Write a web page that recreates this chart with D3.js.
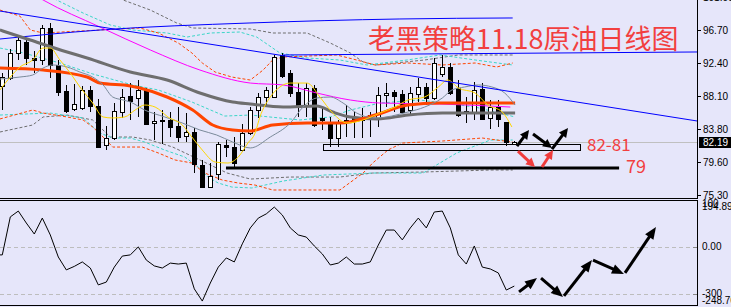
<!DOCTYPE html>
<html><head><meta charset="utf-8">
<script src="https://cdn.jsdelivr.net/npm/d3@7"></script>
<style>html,body{margin:0;padding:0;background:#e6e6fa;overflow:hidden}svg{display:block}</style>
</head><body><svg id="c" width="731" height="307"></svg>
<script>
// ---------- DATA ----------
// daily candles [open, high, low, close]
const candles = [
[89.44,91.12,86.32,90.60],[90.47,94.23,90.21,93.72],[93.72,95.79,92.81,95.40],[95.14,95.66,92.16,93.07],
[93.07,93.98,91.12,92.81],[92.81,97.35,92.16,96.96],[96.96,97.61,90.47,92.16],[92.16,92.81,88.14,88.66],
[88.79,89.57,85.93,86.19],[86.45,89.69,86.19,87.10],[86.58,89.44,86.32,88.92],[88.92,89.44,86.06,86.84],
[86.84,87.75,81.40,81.52],[81.78,84.25,81.13,82.69],[82.69,87.23,82.43,86.19],[86.06,89.05,85.29,88.01],
[88.14,89.82,85.03,87.49],[87.88,90.21,85.42,88.92],[88.92,89.18,84.38,84.51],[84.64,86.06,82.43,84.90],
[85.03,86.32,81.91,84.90],[85.03,86.06,82.82,84.12],[84.25,86.71,82.17,82.82],[82.95,85.93,82.17,83.47],
[83.47,83.99,78.15,79.32],[79.19,79.84,76.21,76.34],[76.34,79.45,76.21,77.76],[78.02,82.17,77.24,81.91],
[81.78,82.43,80.23,81.52],[81.52,82.82,78.93,79.45],[81.13,84.51,80.88,83.34],[83.34,86.71,83.08,86.32],
[86.32,88.53,85.29,88.01],[88.01,89.31,86.97,88.92],[88.01,93.46,87.88,93.20],[93.46,93.72,90.47,90.73],
[91.12,91.51,88.01,88.53],[88.66,89.82,85.42,86.97],[86.97,89.82,85.42,89.18],[89.18,89.57,84.12,84.38],
[85.29,86.58,83.73,85.03],[84.64,85.42,81.52,82.69],[82.69,85.03,81.52,84.64],[85.03,86.97,82.82,84.90],
[85.16,86.06,82.69,85.29],[85.42,86.58,82.69,85.03],[85.42,86.06,82.82,85.67],[85.29,89.31,84.12,88.27],
[88.27,89.82,86.71,88.53],[88.66,88.92,86.06,88.14],[88.40,88.92,85.93,86.06],[86.32,89.31,85.67,88.53],
[88.40,90.47,87.36,89.31],[89.31,89.82,86.97,87.88],[87.88,93.07,87.62,92.42],[90.99,93.46,90.60,91.90],
[91.90,92.42,88.27,88.53],[89.18,90.21,85.42,85.67],[85.93,88.01,84.64,86.19],[86.06,89.95,85.03,88.92],
[89.05,89.82,85.03,85.16],[85.29,87.62,83.86,86.71],[86.71,87.62,84.12,85.16],[84.77,84.77,81.65,82.17],
[81.90,82.30,81.78,82.19]
];
// moving averages, read as [bar index, price]
const maYellow = [[-0.3,88.92],[1.0,90.60],[2.2,91.90],[3.8,92.81],[5.1,94.36],[6.0,94.36],[7.2,92.81],[8.5,91.12],[9.7,89.31],[11.3,87.23],[12.6,85.42],[13.8,85.29],[15.3,85.42],[16.6,86.32],[17.8,86.97],[19.1,86.71],[20.7,85.42],[22.5,84.38],[23.7,82.82],[25.0,81.13],[26.6,79.58],[28.2,79.45],[29.5,80.23],[30.7,82.04],[31.6,83.34],[32.2,85.42],[33.5,88.01],[34.7,89.31],[36.0,89.82],[38.1,89.82],[39.7,88.01],[41.3,85.93],[43.1,84.64],[45.1,85.03],[47.2,85.93],[49.1,86.71],[50.7,87.62],[52.8,88.01],[54.5,89.31],[55.7,90.21],[57.0,89.18],[59.1,88.53],[60.7,86.97],[62.5,86.06],[63.7,84.12]];
const maGreyThin = [[-0.3,90.34],[2.2,90.60],[3.8,90.86],[5.1,91.77],[6.3,92.16],[8.1,91.90],[9.7,91.25],[11.3,90.60],[12.6,89.57],[13.8,88.01],[15.1,87.62],[16.0,87.36],[17.8,86.32],[20.3,85.42],[22.5,84.64],[24.7,83.73],[26.8,83.08],[28.8,82.17],[31.0,81.40],[33.5,82.82],[36.0,84.64],[37.6,86.71],[39.3,87.88],[41.0,88.01],[42.6,87.23],[44.3,85.93],[46.6,85.29],[50.7,86.06],[52.8,86.71],[55.0,87.88],[56.2,88.92],[57.8,89.31],[59.5,89.57],[61.2,89.31],[62.8,88.53],[64.1,86.97]];
const maOrange = [[-0.3,91.77],[5.1,91.51],[10.6,90.60],[12.2,89.82],[16.0,89.44],[17.2,89.18],[20.6,88.01],[23.8,86.32],[26.3,84.38],[28.8,83.73],[31.0,83.60],[33.8,84.38],[38.1,84.64],[42.2,84.64],[46.6,85.67],[50.7,86.97],[54.7,87.23],[64.1,87.23]];
const maGreyThick = [[-0.3,96.70],[3.5,95.40],[8.1,93.85],[10.6,93.07],[16.0,91.25],[20.6,90.21],[24.7,88.53],[28.8,87.36],[31.0,87.10],[35.1,86.71],[39.3,86.84],[41.3,86.06],[43.5,85.42],[46.9,85.16],[50.7,85.67],[55.0,85.93],[64.1,85.93]];
const maMagenta = [[4.1,101.2],[5.1,100.59],[12.2,97.09],[18.5,94.11],[24.7,91.51],[31.0,89.82],[35.1,89.57],[39.3,88.53],[43.5,87.62],[47.2,87.23],[54.7,87.10],[63.5,86.71]];
const maBlue = [[-0.3,95.53],[12.2,96.70],[30.96,97.61],[49.7,98.13],[63.8,98.26]];
// envelope / band lines (dashed)
const bandRedUp = [[-0.3,99.29],[2.2,98.51],[3.5,96.70],[5.1,96.31],[12.2,96.70],[17.2,96.96],[19.5,96.31],[22.0,95.01],[23.7,93.72],[25.0,92.42],[26.6,91.25],[28.7,90.60],[31.0,90.21],[32.6,91.51],[33.8,92.81],[35.1,93.20],[41.8,93.46],[44.3,92.81],[46.6,92.16],[50.7,92.42],[55.0,92.16],[59.1,92.42],[61.8,91.90],[63.8,92.42]];
const bandRedLow = [[-0.3,85.16],[3.8,86.32],[5.1,85.93],[8.1,85.42],[10.1,85.03],[11.3,84.12],[12.6,82.82],[13.8,81.52],[17.5,81.52],[19.5,80.75],[21.6,79.84],[23.7,79.45],[25.3,78.15],[27.5,77.24],[29.5,76.85],[31.6,76.59],[33.8,75.95],[42.2,75.95],[45.1,78.15],[46.3,79.45],[48.2,81.13],[50.0,82.04],[55.0,82.30],[60.0,82.69],[61.8,82.43],[63.8,82.17]];
const bandCyanUp = [[6.0,101.2],[6.8,100.59],[10.1,98.90],[13.5,97.35],[16.3,96.70],[20.6,96.31],[23.1,95.79],[26.0,96.31],[29.7,96.44],[31.8,95.79],[34.7,93.72],[38.1,93.07],[42.2,92.81],[45.6,92.16],[50.6,92.81],[54.7,93.46],[59.1,92.81],[63.8,92.16]];
const bandCyanMid = [[-0.3,94.36],[2.2,93.85],[7.2,92.42],[11.3,91.00],[16.3,89.57],[19.5,88.92],[23.7,87.36],[27.8,85.54],[31.0,85.67],[37.2,85.03],[41.0,85.42],[43.5,86.32],[47.2,87.23],[52.2,87.62],[59.1,86.71],[64.1,85.42]];
const bandCyanLow = [[-0.3,85.67],[6.0,85.93],[10.1,85.29],[12.2,83.34],[13.8,82.69],[16.0,82.69],[17.8,82.17],[20.3,81.13],[22.8,80.23],[24.5,78.93],[25.7,77.63],[27.0,76.85],[28.7,76.33],[31.2,76.21],[35.1,77.11],[40.1,77.89],[46.3,78.15],[52.6,78.15],[54.7,79.45],[56.8,80.75],[61.0,82.43],[63.8,82.43]];
const bandGreyUp = [[14.1,101.2],[15.1,100.59],[18.5,99.29],[21.8,97.61],[23.8,96.96],[31.0,96.83],[33.8,96.31],[38.1,96.31],[41.0,95.01],[43.5,93.72],[45.1,92.55],[46.6,92.16],[52.8,92.81],[57.0,93.46],[63.8,93.46]];
const bandGreyLow = [[-0.3,83.47],[3.8,84.38],[5.1,85.42],[8.1,85.67],[11.3,85.03],[13.5,82.82],[16.3,82.82],[18.5,82.43],[21.3,81.52],[24.7,79.84],[28.1,78.15],[31.0,77.37],[36.0,77.63],[42.2,77.63],[46.3,78.15],[52.6,78.28],[61.0,78.54],[63.8,78.54]];
// trend lines [bar index, price]
const trendDown = [[-0.29,99.16],[86.84,84.90]];
const resistance = [[35.1,93.46],[86.84,93.85]];
const lastPrice = 82.19;
const zone = [40.1,72.2,81.95,81.15];     // from, to, high, low
const support = [27.96,77.1,78.8];        // from, to, price
const arrowsBlack = [[64.34,81.65,65.84,83.73],[66.34,83.21,68.71,81.40],[68.71,81.26,70.71,83.99]];
const arrowsRed = [[64.46,81.00,66.59,78.93],[67.46,78.93,68.84,81.13]];
// CCI values from bar index -1
const cci = [-35,-35,127,152,101,54,122,50,-44,-99,-84,-65,-91,-163,-151,-87,-40,-35,-1,-57,-82,-91,-70,-74,-70,-180,-232,-155,-87,-48,-65,12,80,122,140,169,135,80,50,41,3,-31,-78,-70,-44,-74,-74,-65,7,71,71,29,80,122,80,148,152,80,-35,-74,3,-87,-95,-112,-185,-168];
const arrowsCci = [[64.59,-193,66.84,-134],[67.34,-134,70.09,-215],[70.21,-210,73.71,-57],[73.84,-57,77.71,-116],[77.84,-112,81.71,84]];
const priceTicks = [101.00,96.70,92.40,88.10,83.80,79.60,75.30];
const cciTicks = [194.895,0,-248.76];
const cciTickLabels = ["194.895","0.00","-248.76"];
const cciLevels = [0,-200];
const cciLevelLabels = ["100","-300"];
const cciLevelLabelValues = [185,-200];
const title = "老黑策略11.18原油日线图";
const zoneLabel = "82-81";
const supportLabel = "79";

// ---------- CHART ----------
const W=731,H=307,PR=697;
const svg=d3.select("#c");
const xs=d3.scaleLinear().domain([0,64]).range([2.3,514.3]);
const ym=d3.scaleLinear().domain([75.30,96.70]).range([195,30]);
const ys=d3.scaleLinear().domain([-248.76,194.895]).range([305,201]);
svg.append("rect").attr("width",W).attr("height",H).attr("fill","#e6e6fa");
const defs=svg.append("defs");
defs.append("clipPath").attr("id","cm").append("rect").attr("x",0).attr("y",0).attr("width",PR).attr("height",198);
defs.append("clipPath").attr("id","cs").append("rect").attr("x",0).attr("y",201).attr("width",PR).attr("height",104);
const gm=svg.append("g").attr("clip-path","url(#cm)");
const gs=svg.append("g").attr("clip-path","url(#cs)");

const lineLin=d3.line().x(d=>xs(d[0])).y(d=>ym(d[1]));
const lineSm=d3.line().x(d=>xs(d[0])).y(d=>ym(d[1])).curve(d3.curveMonotoneX);

// current price line
gm.append("line").attr("x1",0).attr("x2",PR).attr("y1",Math.round(ym(lastPrice))+0.5).attr("y2",Math.round(ym(lastPrice))+0.5).attr("stroke","#c0c0c0");

// dashed bands
[[bandGreyUp,"#6e6e6e"],[bandGreyLow,"#6e6e6e"],[bandCyanUp,"#3cd6c8"],[bandCyanMid,"#3cd6c8"],[bandCyanLow,"#3cd6c8"],[bandRedUp,"#ff4500"],[bandRedLow,"#ff4500"]].forEach(([d,c])=>{
  gm.append("path").attr("d",lineLin(d)).attr("fill","none").attr("stroke",c).attr("stroke-width",1).attr("stroke-dasharray","3,2");
});

// candles
const cg=gm.append("g");
candles.forEach((c,i)=>{
  const cx=Math.round(xs(i))+0.5;
  const [o,h,l,cl]=c;
  cg.append("line").attr("x1",cx).attr("x2",cx).attr("y1",Math.round(ym(h))).attr("y2",Math.round(ym(l))).attr("stroke","#000");
  const top=Math.round(ym(Math.max(o,cl))), bot=Math.round(ym(Math.min(o,cl)));
  cg.append("rect").attr("x",cx-2).attr("y",top+0.5).attr("width",4).attr("height",Math.max(1,bot-top))
    .attr("fill",cl>=o?"#fff":"#000").attr("stroke","#000").attr("stroke-width",1);
});

// moving averages
[[maBlue,"#0000ff",1],[maMagenta,"#ff00ff",1],[maGreyThick,"#6e6e6e",3],[maOrange,"#ff4500",3],[maGreyThin,"#7a8a9a",1],[maYellow,"#ffd700",1]].forEach(([d,c,w])=>{
  gm.append("path").attr("d",lineSm(d)).attr("fill","none").attr("stroke",c).attr("stroke-width",w);
});
// trend lines
[trendDown,resistance].forEach(d=>{
  gm.append("path").attr("d",lineLin(d)).attr("fill","none").attr("stroke","#0000ff").attr("stroke-width",1);
});

// zone box & support line
gm.append("rect").attr("x",Math.round(xs(zone[0]))+0.5).attr("y",Math.round(ym(zone[2]))+0.5)
  .attr("width",Math.round(xs(zone[1])-xs(zone[0]))).attr("height",Math.round(ym(zone[3])-ym(zone[2])))
  .attr("fill","none").attr("stroke","#000");
gm.append("line").attr("x1",xs(support[0])).attr("x2",xs(support[1])).attr("y1",ym(support[2])).attr("y2",ym(support[2])).attr("stroke","#000").attr("stroke-width",3);

function arrow(g,x1,y1,x2,y2,color,w,hl,hw){
  const dx=x2-x1,dy=y2-y1,L=Math.hypot(dx,dy),ux=dx/L,uy=dy/L;
  const bx=x2-ux*hl,by=y2-uy*hl;
  g.append("line").attr("x1",x1).attr("y1",y1).attr("x2",bx+ux).attr("y2",by+uy).attr("stroke",color).attr("stroke-width",w);
  g.append("path").attr("d",`M${x2},${y2}L${bx-uy*hw},${by+ux*hw}L${bx+uy*hw},${by-ux*hw}Z`).attr("fill",color);
}
arrowsBlack.forEach(a=>arrow(gm,xs(a[0]),ym(a[1]),xs(a[2]),ym(a[3]),"#000",3,9,4.5));
arrowsRed.forEach(a=>arrow(gm,xs(a[0]),ym(a[1]),xs(a[2]),ym(a[3]),"#f03c3c",3,9,4.5));

// texts
const cjk="'Noto Sans CJK SC','Noto Sans',sans-serif";
svg.append("text").attr("x",368).attr("y",49).attr("font-family",cjk).attr("font-size",27).attr("fill","#f23f3f").text(title);
svg.append("text").attr("x",587).attr("y",151).attr("font-family",cjk).attr("font-size",17).attr("fill","#f23f3f").text(zoneLabel);
svg.append("text").attr("x",626).attr("y",173).attr("font-family",cjk).attr("font-size",18).attr("fill","#f23f3f").text(supportLabel);

// sub panel CCI
cciLevels.forEach(v=>{
  gs.append("line").attr("x1",0).attr("x2",PR).attr("y1",Math.round(ys(v))+0.5).attr("y2",Math.round(ys(v))+0.5).attr("stroke","#bdbdbd").attr("stroke-dasharray","4,3");
});
const cciLine=d3.line().x((d,i)=>xs(i-1)).y(d=>ys(d));
gs.append("path").attr("d",cciLine(cci)).attr("fill","none").attr("stroke","#000").attr("stroke-width",1);
arrowsCci.forEach(a=>arrow(gs,xs(a[0]),ys(a[1]),xs(a[2]),ys(a[3]),"#000",3,12,5));

// frames
svg.append("line").attr("x1",0).attr("x2",PR).attr("y1",198.5).attr("y2",198.5).attr("stroke","#000");
svg.append("line").attr("x1",0).attr("x2",PR).attr("y1",200.5).attr("y2",200.5).attr("stroke","#000");
svg.append("line").attr("x1",0).attr("x2",PR).attr("y1",305.5).attr("y2",305.5).attr("stroke","#000");
svg.append("line").attr("x1",PR+0.5).attr("x2",PR+0.5).attr("y1",0).attr("y2",199).attr("stroke","#000");
svg.append("line").attr("x1",PR+0.5).attr("x2",PR+0.5).attr("y1",200).attr("y2",306).attr("stroke","#000");

// axis labels
const af="'Liberation Sans',Arial,sans-serif";
const fmt=d3.format(".2f");
priceTicks.forEach(v=>{
  const y=Math.round(ym(v))+0.5;
  svg.append("line").attr("x1",PR).attr("x2",PR+4).attr("y1",y).attr("y2",y).attr("stroke","#000");
  svg.append("text").attr("x",703).attr("y",y).attr("dy","0.35em").attr("font-family",af).attr("font-size",10).attr("fill","#000").text(fmt(v));
});
const ly=Math.round(ym(lastPrice));
svg.append("rect").attr("x",699).attr("y",ly-5).attr("width",32).attr("height",11).attr("fill","#000");
svg.append("text").attr("x",703).attr("y",ly+0.5).attr("dy","0.35em").attr("font-family",af).attr("font-size",10).attr("fill","#fff").text(fmt(lastPrice));

cciLevelLabelValues.forEach((v,i)=>{
  const y=ys(v);
  svg.append("line").attr("x1",PR-4).attr("x2",PR).attr("y1",Math.round(ys(cciLevels[i]))+0.5).attr("y2",Math.round(ys(cciLevels[i]))+0.5).attr("stroke","#888");
  svg.append("text").attr("x",702).attr("y",y).attr("dy","0.35em").attr("font-family",af).attr("font-size",10).attr("fill","#000").text(cciLevelLabels[i]);
});
cciTicks.forEach((v,i)=>{
  let y=ys(v);
  let dy="0.35em";
  if(i===0){y=ys(v);dy="0.9em";}
  if(i===2){dy="-0.1em";}
  svg.append("text").attr("x",702).attr("y",y).attr("dy",dy).attr("font-family",af).attr("font-size",10).attr("fill","#000").text(cciTickLabels[i]);
});
</script></body></html>
